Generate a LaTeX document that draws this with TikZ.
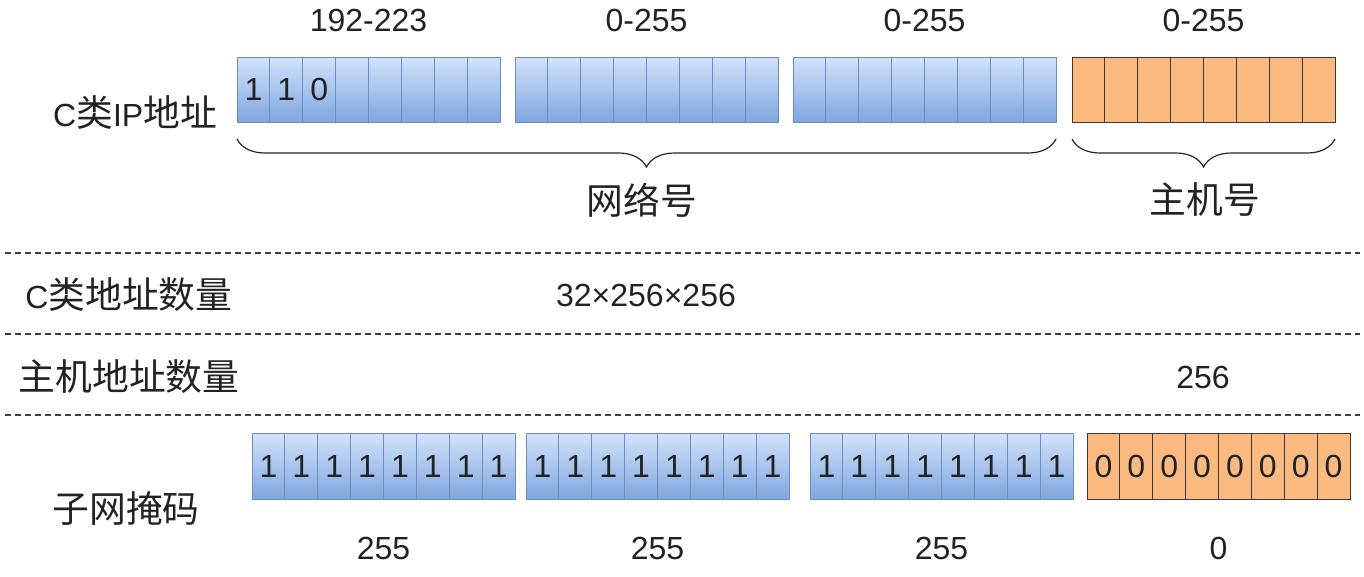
\documentclass[tikz,border=0pt]{standalone}
\usepackage{fontspec}
\setmainfont{Liberation Sans}
\newfontfamily\cjk[Scale=1.15]{Noto Sans CJK SC}
\usetikzlibrary{decorations.pathreplacing}
\definecolor{bluetop}{HTML}{D4E3FB}
\definecolor{bluebot}{HTML}{7EA6E0}
\definecolor{bluedraw}{HTML}{6C8EBF}
\definecolor{orfill}{HTML}{FBBA80}
\definecolor{ordraw}{HTML}{3A3A3A}
\definecolor{txt}{HTML}{222222}
\begin{document}
\begin{tikzpicture}[x=1pt,y=-1pt,
  lbl/.style={font=\fontsize{32}{37}\selectfont, text=txt, inner sep=0pt},
  cellbase/.style={line width=1pt, minimum width=32.875pt, inner sep=0pt, outer sep=0pt, font=\fontsize{32}{36}\selectfont, text=txt},
  bcell/.style={cellbase, draw=bluedraw, top color=bluetop, bottom color=bluebot},
  ocell/.style={cellbase, draw=ordraw, fill=orfill},
  toprow/.style={minimum height=65pt},
  botrow/.style={minimum height=66pt},
  sepline/.style={dash pattern=on 6pt off 4pt, line width=1.3pt, draw=black!75},
  brc/.style={decorate, decoration={brace, amplitude=28pt}, line width=1.2pt, draw=black!85}
]
\useasboundingbox (0,0) rectangle (1364,576);

% ---- top row: C class IP address ----
\foreach \b/\x in {a/237, b/515, c/793} {
  \foreach \i in {0,...,7} {
    \node[bcell, toprow] (t\b\i) at ({\x+32.875*\i+16.44}, 89.5) {};
  }
}
\foreach \i in {0,...,7} {
  \node[ocell, toprow] (td\i) at ({1072+32.875*\i+16.44}, 89.5) {};
}
\node[cellbase, text=txt] (d1) at (ta0) {1};
\node[cellbase, text=txt] (d2) at (ta1) {1};
\node[cellbase, text=txt] (d3) at (ta2) {0};

\node[lbl] (h1) at (368.5, 20) {192-223};
\node[lbl] (h2) at (646.5, 20) {0-255};
\node[lbl] (h3) at (924.5, 20) {0-255};
\node[lbl] (h4) at (1203.5, 20) {0-255};

\node[lbl] (ipl) at (135, 113) {C{\cjk 类}IP{\cjk 地址}};

% braces
\coordinate (nb1) at (237,139);
\coordinate (nb2) at (1056,139);
\coordinate (hb1) at (1072,139);
\coordinate (hb2) at (1335,139);
\draw[brc] (nb2) -- (nb1);
\draw[brc] (hb2) -- (hb1);
\node[lbl] (netl) at (642, 200) {\cjk 网络号};
\node[lbl] (hostl) at (1205, 200) {\cjk 主机号};

% dashed separators
\coordinate (s1a) at (5,253);   \coordinate (s1b) at (1360,253);
\coordinate (s2a) at (5,334);   \coordinate (s2b) at (1360,334);
\coordinate (s3a) at (5,415);   \coordinate (s3b) at (1360,415);
\draw[sepline] (s1a) -- (s1b);
\draw[sepline] (s2a) -- (s2b);
\draw[sepline] (s3a) -- (s3b);

% counts
\node[lbl] (cnl) at (129, 295) {C{\cjk 类地址数量}};
\node[lbl] (cnv) at (646, 295) {32×256×256};
\node[lbl] (hnl) at (129, 377) {\cjk 主机地址数量};
\node[lbl] (hnv) at (1203, 377) {256};

% ---- subnet mask ----
\node[lbl] (maskl) at (126, 508) {\cjk 子网掩码};
\foreach \b/\x in {a/252, b/526, c/810} {
  \foreach \i in {0,...,7} {
    \node[bcell, botrow] (m\b\i) at ({\x+32.875*\i+16.44}, 466) {1};
  }
}
\foreach \i in {0,...,7} {
  \node[ocell, botrow] (md\i) at ({1087+32.875*\i+16.44}, 466) {0};
}
\node[lbl] (v1) at (383.5, 548) {255};
\node[lbl] (v2) at (657.5, 548) {255};
\node[lbl] (v3) at (941.5, 548) {255};
\node[lbl] (v4) at (1218.5, 548) {0};
\end{tikzpicture}
\end{document}
